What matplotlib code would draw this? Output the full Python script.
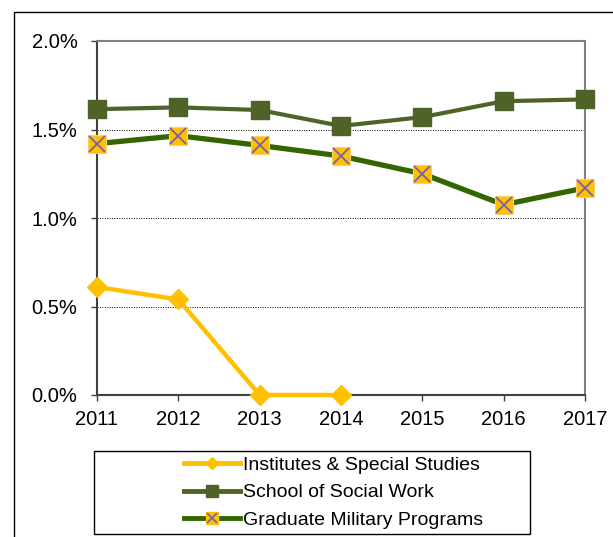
import matplotlib.pyplot as plt
from matplotlib.patches import Rectangle
from matplotlib.lines import Line2D
from matplotlib.ticker import FuncFormatter

plt.rcParams['font.family'] = ['Liberation Sans', 'DejaVu Sans']

years = [2011, 2012, 2013, 2014, 2015, 2016, 2017]
institutes = [0.61, 0.54, 0.0, 0.0]
social_work = [1.615, 1.625, 1.61, 1.52, 1.57, 1.66, 1.67]
military = [1.42, 1.465, 1.41, 1.35, 1.25, 1.075, 1.17]
labels = ['Institutes & Special Studies', 'School of Social Work', 'Graduate Military Programs']

c_inst = '#FFC000'
c_ssw = '#4F6228'
c_mil = '#336600'
c_x = '#7A60A8'

fig = plt.figure(figsize=(6.13, 5.37), dpi=100)
W, H = 613, 537
ax = fig.add_axes([97 / W, 1 - 395 / H, (585 - 97) / W, (395 - 41) / H])

# outer chart frame (runs off right/bottom edge)
fig.patches.append(Rectangle((14 / W, -0.1), 1.0, 1 - 12 / H + 0.1, transform=fig.transFigure,
                             fill=False, edgecolor='black', linewidth=1.0))

# grid
for v in [0.5, 1.0, 1.5]:
    ax.axhline(v, color='black', linestyle=(0, (1, 1.5)), linewidth=0.7, zorder=1)

ax.plot(years[:len(institutes)], institutes, color=c_inst, linewidth=3.2,
        marker='D', markersize=10, markerfacecolor=c_inst, markeredgecolor=c_inst,
        zorder=3, clip_on=False)
ax.plot(years, social_work, color=c_ssw, linewidth=3.0,
        marker='s', markersize=13, markerfacecolor=c_ssw, markeredgecolor=c_ssw,
        zorder=3, clip_on=False)
ax.plot(years, military, color=c_mil, linewidth=3.8,
        marker='s', markersize=13, markerfacecolor=c_inst, markeredgecolor='#F8D070',
        markeredgewidth=0.8, zorder=4, clip_on=False)
ax.plot(years, military, linestyle='none', marker='x', markersize=12,
        markeredgecolor=c_x, markeredgewidth=1.3, zorder=5, clip_on=False)

ax.set_xlim(2011, 2017)
ax.set_ylim(0, 2.0)
ax.set_xticks(years)
ax.set_yticks([0, 0.5, 1.0, 1.5, 2.0])
ax.yaxis.set_major_formatter(FuncFormatter(lambda v, p: f'{v:.1f}%'))
ax.tick_params(axis='both', labelsize=14.5, direction='out', length=4, width=1, color='#404040')
ax.tick_params(axis='y', pad=10)
ax.tick_params(axis='x', pad=6.5)

for s in ['left', 'bottom']:
    ax.spines[s].set_color('#404040')
    ax.spines[s].set_linewidth(1.5)
for s in ['top', 'right']:
    ax.spines[s].set_color('#808080')
    ax.spines[s].set_linewidth(1.5)

# legend (smaller markers than on the plot)
h1 = Line2D([], [], color=c_inst, linewidth=3.5, marker='D', markersize=6,
            markerfacecolor=c_inst, markeredgecolor=c_inst)
h2 = Line2D([], [], color=c_ssw, linewidth=3.5, marker='s', markersize=8,
            markerfacecolor=c_ssw, markeredgecolor=c_ssw)
h3a = Line2D([], [], color=c_mil, linewidth=3.5, marker='s', markersize=8,
             markerfacecolor=c_inst, markeredgecolor=c_inst)
h3b = Line2D([], [], linestyle='none', marker='x', markersize=7,
             markeredgecolor=c_x, markeredgewidth=1.2)

fig.patches.append(Rectangle((94 / W, 1 - 534 / H), (530 - 94) / W, (534 - 451) / H,
                             transform=fig.transFigure, fill=False, edgecolor='black', linewidth=1.0))
fig.legend([h1, h2, (h3a, h3b)], labels, loc='upper left',
           bbox_to_anchor=(184 / W, 1 - 456 / H), frameon=False, fontsize=14,
           handlelength=2.9, handletextpad=0.15, labelspacing=0.52, borderaxespad=0,
           borderpad=0)

fig.savefig('out.png', dpi=100)
